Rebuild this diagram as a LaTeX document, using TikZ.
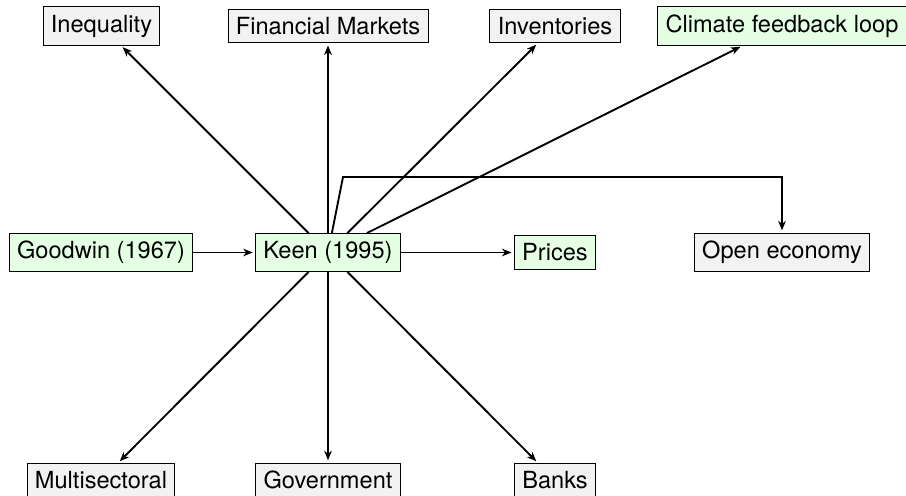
\documentclass[tikz,border=0pt]{standalone}
\usepackage{fontspec}
\setmainfont{TeX Gyre Heros}
\usetikzlibrary{arrows.meta}
\begin{document}
\begin{tikzpicture}[x=0.4237pt, y=-0.4237pt,
  basebox/.style={draw=black, line width=0.4pt, inner sep=3.333pt, font=\fontsize{10}{12}\selectfont},
  gbox/.style={basebox, fill=green!10},
  obox/.style={basebox, fill=gray!10},
  arr/.style={line width=0.8pt, -{Stealth[length=4pt,width=3.2pt,inset=1.2pt]}, shorten >=1pt},
  link/.style={line width=0.8pt}]
\useasboundingbox (0,0) rectangle (906,495);
\clip (0,0) rectangle (906,495);
\node[gbox] (keen) at (328,252.5) {Keen (1995)};
\node[gbox] (goodwin) at (101,252.5) {Goodwin (1967)};
\node[gbox] (prices) at (555,252.5) {Prices};
\node[obox] (open) at (782,252.5) {Open economy};
\node[obox] (ineq) at (101.5,26) {Inequality};
\node[obox] (fin) at (328,26) {Financial Markets};
\node[obox] (inv) at (555,26) {Inventories};
\node[gbox] (clim) at (782,26) {Climate feedback loop};
\node[obox] (multi) at (101,480) {Multisectoral};
\node[obox] (gov) at (328,480) {Government};
\node[obox] (banks) at (555,480) {Banks};
\coordinate (bend) at (343,177);
\draw[arr] (goodwin) -- (keen);
\draw[arr] (keen) -- (prices);
\draw[arr] (keen) -- (ineq);
\draw[arr] (keen) -- (fin);
\draw[arr] (keen) -- (inv);
\draw[arr] (keen) -- (clim);
\draw[arr] (keen) -- (multi);
\draw[arr] (keen) -- (gov);
\draw[arr] (keen) -- (banks);
\draw[arr] (keen) -- (bend) -| (open);
\end{tikzpicture}
\end{document}
